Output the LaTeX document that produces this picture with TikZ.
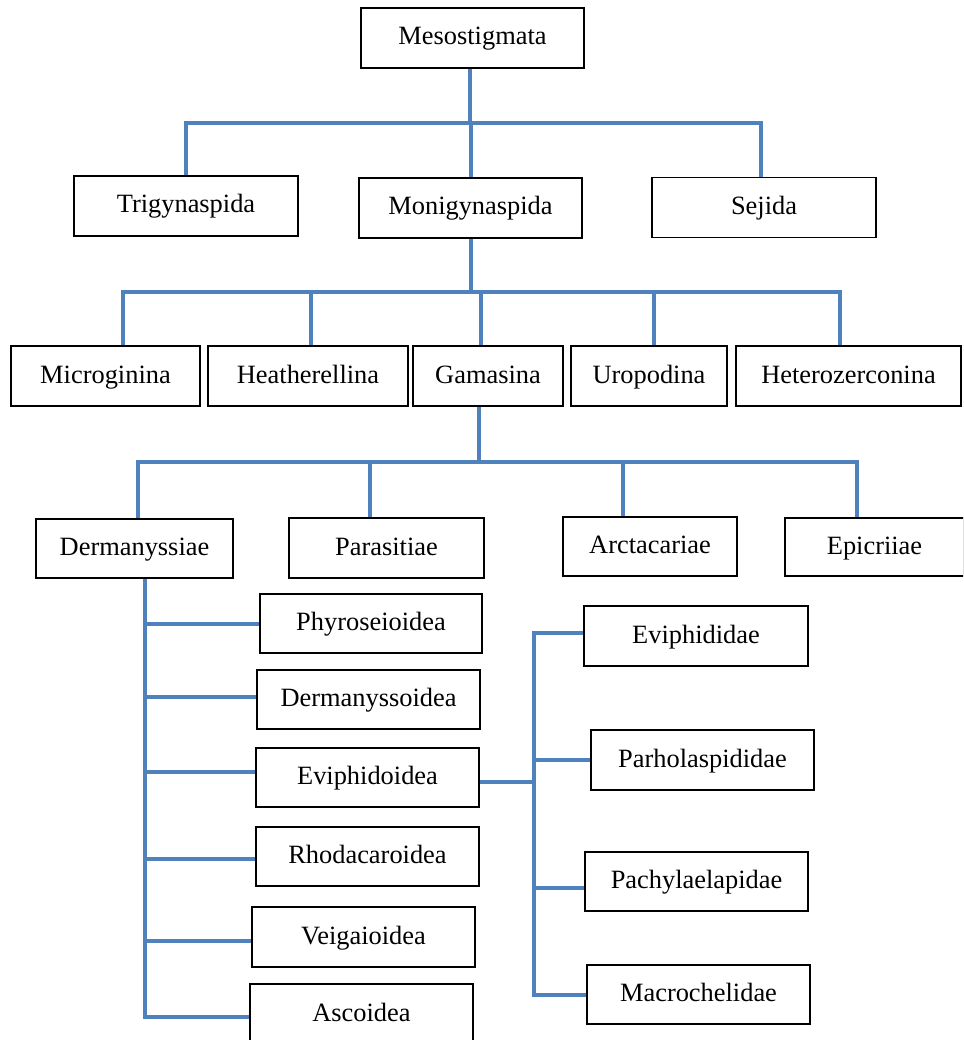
\documentclass[tikz,border=0pt]{standalone}
\usepackage{fontspec}
\setmainfont{Liberation Serif}
\definecolor{linkblue}{RGB}{79,129,189}

\begin{document}
\begin{tikzpicture}[x=1pt,y=-1pt,
	box/.style={draw,line width=1.3pt,rectangle,inner sep=0pt,minimum height=60pt,text height=19.5pt,text depth=5.5pt,font=\fontsize{26.4}{30}\selectfont},
	link/.style={draw=linkblue,line width=4pt}]
			\clip (0,0) rectangle (963,1040);
			\fill[white] (0,0) rectangle (963,1040);
			\node[box,minimum width=223pt] (meso) at (472.5,38) {Mesostigmata};
			\node[box,minimum width=224pt] (trig) at (186,206) {Trigynaspida};
			\node[box,minimum width=223pt] (moni) at (470.5,208) {Monigynaspida};
			\node[box,minimum width=224pt] (sej) at (764,207.5) {Sejida};
			\node[box,minimum width=189pt] (micro) at (105.5,376) {Microginina};
			\node[box,minimum width=200pt] (heath) at (308,376) {Heatherellina};
			\node[box,minimum width=150pt] (gama) at (488,376) {Gamasina};
			\node[box,minimum width=156pt] (urop) at (649,376) {Uropodina};
			\node[box,minimum width=225pt] (heter) at (848.5,376) {Heterozerconina};
			\node[box,minimum width=197pt,minimum height=59pt] (derm) at (134.5,548.5) {Dermanyssiae};
			\node[box,minimum width=195pt] (para) at (386.5,548) {Parasitiae};
			\node[box,minimum width=174pt,minimum height=59pt] (arct) at (650,546.5) {Arctacariae};
			\node[box,minimum width=179pt,minimum height=58pt] (epic) at (874.5,547) {Epicriiae};
			\node[box,minimum width=222pt,minimum height=59pt] (phyr) at (371,623.5) {Phyroseioidea};
			\node[box,minimum width=223pt,minimum height=59pt] (dmoid) at (368.5,699.5) {Dermanyssoidea};
			\node[box,minimum width=223pt,minimum height=59pt] (evoid) at (367.5,777.5) {Eviphidoidea};
			\node[box,minimum width=223pt,minimum height=59pt] (rhod) at (367.5,856.5) {Rhodacaroidea};
			\node[box,minimum width=223pt] (veig) at (363.5,937) {Veigaioidea};
			\node[box,minimum width=223pt] (asco) at (361.5,1014) {Ascoidea};
			\node[box,minimum width=224pt] (evid) at (696,636) {Eviphididae};
			\node[box,minimum width=223pt] (parh) at (702.5,760) {Parholaspididae};
			\node[box,minimum width=223pt,minimum height=59pt] (pach) at (696.5,881.5) {Pachylaelapidae};
			\node[box,minimum width=223pt,minimum height=59pt] (macr) at (698.5,994.5) {Macrochelidae};
			\coordinate (bus1) at (470,123);
			\coordinate (bus2) at (470.5,292);
			\coordinate (bus3) at (479,462);
			\coordinate (dspine) at ([xshift=10.5pt]derm.south);
			\coordinate (espine) at (534,782);
			\draw[link] ([xshift=-2.5pt]meso.south) -- (bus1);
			\draw[link] (trig.north) |- (bus1);
			\draw[link] (moni.north) |- (bus1);
			\draw[link] ([xshift=-3pt]sej.north) |- (bus1);
			\draw[link] (moni.south) -- (bus2);
			\draw[link] ([xshift=17.5pt]micro.north) |- (bus2);
			\draw[link] ([xshift=3pt]heath.north) |- (bus2);
			\draw[link] ([xshift=-7pt]gama.north) |- (bus2);
			\draw[link] ([xshift=5pt]urop.north) |- (bus2);
			\draw[link] ([xshift=-9pt]heter.north) |- (bus2);
			\draw[link] ([xshift=-9pt]gama.south) -- (bus3);
			\draw[link] ([xshift=3.5pt]derm.north) |- (bus3);
			\draw[link] ([xshift=-16.5pt]para.north) |- (bus3);
			\draw[link] ([xshift=-27pt]arct.north) |- (bus3);
			\draw[link] ([xshift=-17.5pt]epic.north) |- (bus3);
			\draw[link] (dspine) |- ([yshift=-3pt]asco.west);
			\draw[link] (phyr.west) -| (dspine);
			\draw[link] ([yshift=2.5pt]dmoid.west) -| (dspine);
			\draw[link] ([yshift=5.5pt]evoid.west) -| (dspine);
			\draw[link] ([yshift=-2.5pt]rhod.west) -| (dspine);
			\draw[link] ([yshift=-4pt]veig.west) -| (dspine);
			\draw[link] ([yshift=-4.5pt]evoid.east) -- (espine);
			\draw[link] ([yshift=3pt]evid.west) -| (espine);
			\draw[link] (parh.west) -| (espine);
			\draw[link] ([yshift=-6.5pt]pach.west) -| (espine);
			\draw[link] (macr.west) -| (espine);
		\end{tikzpicture}
\end{document}
